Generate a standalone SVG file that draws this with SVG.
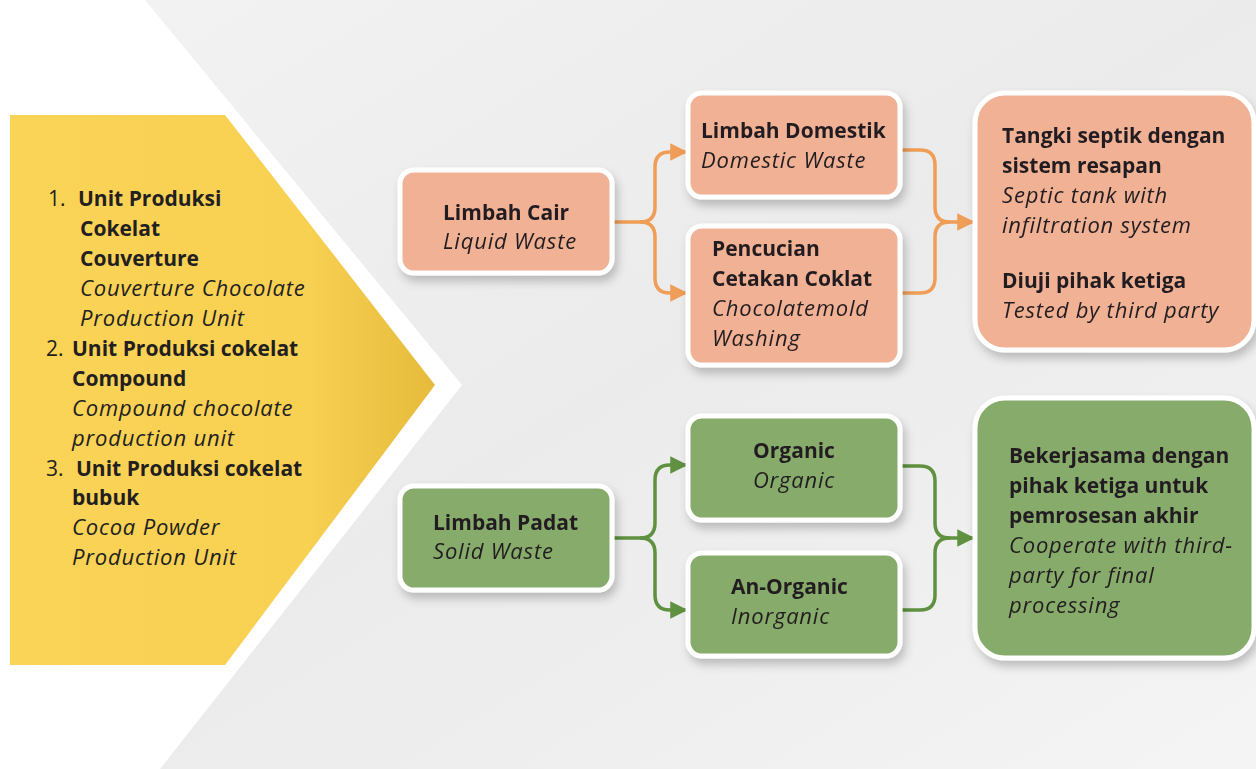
<svg xmlns="http://www.w3.org/2000/svg" width="1256" height="769" viewBox="0 0 1256 769">
<defs>
<linearGradient id="bg" x1="0" y1="0" x2="1" y2="1">
<stop offset="0" stop-color="#f3f3f3"/>
<stop offset="0.5" stop-color="#ebebeb"/>
<stop offset="1" stop-color="#f4f4f4"/>
</linearGradient>
<linearGradient id="yel" x1="0" y1="0" x2="1" y2="0">
<stop offset="0" stop-color="#fad457"/>
<stop offset="0.7" stop-color="#f8d052"/>
<stop offset="1" stop-color="#e6bb3c"/>
</linearGradient>
<filter id="sh" x="-20%" y="-20%" width="140%" height="150%">
<feDropShadow dx="3" dy="6" stdDeviation="5" flood-color="#000" flood-opacity="0.22"/>
</filter>
<marker id="ao" viewBox="0 0 10 10" refX="9" refY="5" markerWidth="5" markerHeight="5" orient="auto" markerUnits="strokeWidth">
<path d="M0,0 L10,5 L0,10 z" fill="#ef9d57"/>
</marker>
<marker id="ag" viewBox="0 0 10 10" refX="9" refY="5" markerWidth="5" markerHeight="5" orient="auto" markerUnits="strokeWidth">
<path d="M0,0 L10,5 L0,10 z" fill="#5f9140"/>
</marker>
<style>
.b{font-family:"Open Sans",Lato,"Liberation Sans",sans-serif;font-weight:700;font-size:21px;fill:#231f20}
.i{font-family:"Open Sans",Lato,"Liberation Sans",sans-serif;font-style:italic;font-size:22px;letter-spacing:0.8px;fill:#231f20}
.n{font-family:"Open Sans",Lato,"Liberation Sans",sans-serif;font-size:21px;fill:#231f20}
.or{fill:#f0b194;stroke:#ffffff;stroke-width:5}
.gr{fill:#87ab6a;stroke:#ffffff;stroke-width:5}
.co{fill:none;stroke:#ef9d57;stroke-width:3.5}
.cg{fill:none;stroke:#5f9140;stroke-width:3.5}
</style>
</defs>
<rect x="0" y="0" width="1256" height="769" fill="url(#bg)"/>
<polygon points="0,0 145,0 462,385 160,769 0,769" fill="#ffffff"/>
<g id="units">
<polygon points="10,115 225,115 435,385 225,665 10,665" fill="url(#yel)"/>
<text class="n" x="48" y="206">1.</text>
<text class="b" x="78" y="206">Unit Produksi</text>
<text class="b" x="80" y="236">Cokelat</text>
<text class="b" x="80" y="266">Couverture</text>
<text class="i" x="80" y="296">Couverture Chocolate</text>
<text class="i" x="80" y="326">Production Unit</text>
<text class="n" x="46" y="356">2.</text>
<text class="b" x="72" y="356">Unit Produksi cokelat</text>
<text class="b" x="72" y="386">Compound</text>
<text class="i" x="72" y="416">Compound chocolate</text>
<text class="i" x="72" y="446">production unit</text>
<text class="n" x="46" y="476">3.</text>
<text class="b" x="76" y="476">Unit Produksi cokelat</text>
<text class="b" x="72" y="505">bubuk</text>
<text class="i" x="72" y="535">Cocoa Powder</text>
<text class="i" x="72" y="565">Production Unit</text>
</g>
<g id="connectors">
<path class="co" d="M612,222 H640 Q655,222 655,207 V167 Q655,152 670,152 H686" marker-end="url(#ao)"/>
<path class="co" d="M640,222 Q655,222 655,237 V278 Q655,293 670,293 H686" marker-end="url(#ao)"/>
<path class="co" d="M900,150 H920 Q935,150 935,165 V207 Q935,222 950,222 H973" marker-end="url(#ao)"/>
<path class="co" d="M900,293 H920 Q935,293 935,278 V237 Q935,222 950,222"/>
<path class="cg" d="M612,538 H640 Q655,538 655,523 V480 Q655,465 670,465 H686" marker-end="url(#ag)"/>
<path class="cg" d="M640,538 Q655,538 655,553 V595 Q655,610 670,610 H686" marker-end="url(#ag)"/>
<path class="cg" d="M900,466 H920 Q935,466 935,481 V523 Q935,538 950,538 H973" marker-end="url(#ag)"/>
<path class="cg" d="M900,610 H920 Q935,610 935,595 V553 Q935,538 950,538"/>
</g>
<g id="limbah-cair" filter="url(#sh)">
<rect class="or" x="400" y="170" width="212" height="103" rx="14"/>
<text class="b" x="443" y="220">Limbah Cair</text>
<text class="i" x="443" y="249">Liquid Waste</text>
</g>
<g id="limbah-domestik" filter="url(#sh)">
<rect class="or" x="688" y="93" width="212" height="104" rx="14"/>
<text class="b" x="701" y="138">Limbah Domestik</text>
<text class="i" x="701" y="168">Domestic Waste</text>
</g>
<g id="pencucian" filter="url(#sh)">
<rect class="or" x="688" y="226" width="212" height="139" rx="14"/>
<text class="b" x="712" y="256">Pencucian</text>
<text class="b" x="712" y="286">Cetakan Coklat</text>
<text class="i" x="712" y="316">Chocolatemold</text>
<text class="i" x="712" y="346">Washing</text>
</g>
<g id="tangki" filter="url(#sh)">
<rect class="or" x="975" y="93" width="279" height="257" rx="30"/>
<text class="b" x="1002" y="143">Tangki septik dengan</text>
<text class="b" x="1002" y="173">sistem resapan</text>
<text class="i" x="1002" y="203">Septic tank with</text>
<text class="i" x="1002" y="233">infiltration system</text>
<text class="b" x="1002" y="288">Diuji pihak ketiga</text>
<text class="i" x="1002" y="318">Tested by third party</text>
</g>
<g id="limbah-padat" filter="url(#sh)">
<rect class="gr" x="400" y="486" width="212" height="104" rx="14"/>
<text class="b" x="433" y="530">Limbah Padat</text>
<text class="i" x="433" y="559">Solid Waste</text>
</g>
<g id="organic" filter="url(#sh)">
<rect class="gr" x="688" y="416" width="212" height="104" rx="14"/>
<text class="b" x="794" y="458" text-anchor="middle">Organic</text>
<text class="i" x="794" y="488" text-anchor="middle">Organic</text>
</g>
<g id="an-organic" filter="url(#sh)">
<rect class="gr" x="688" y="553" width="212" height="103" rx="14"/>
<text class="b" x="731" y="594">An-Organic</text>
<text class="i" x="731" y="624">Inorganic</text>
</g>
<g id="bekerjasama" filter="url(#sh)">
<rect class="gr" x="975" y="398" width="279" height="260" rx="30"/>
<text class="b" x="1009" y="463">Bekerjasama dengan</text>
<text class="b" x="1009" y="493">pihak ketiga untuk</text>
<text class="b" x="1009" y="523">pemrosesan akhir</text>
<text class="i" x="1009" y="553">Cooperate with third-</text>
<text class="i" x="1009" y="583">party for final</text>
<text class="i" x="1009" y="613">processing</text>
</g>
</svg>
